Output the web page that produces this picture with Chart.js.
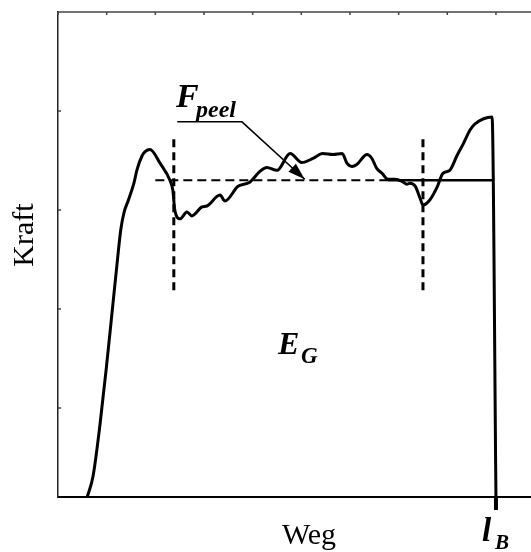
<!DOCTYPE html>
<html>
<head>
<meta charset="utf-8">
<script src="https://cdn.jsdelivr.net/npm/chart.js@4"></script>
<style>
  html, body { margin: 0; padding: 0; background: #fff; }
  #kraftChart { display: block; }
</style>
</head>
<body>
<canvas id="kraftChart" width="531" height="552"></canvas>
<script>
// peel curve, Weg (x) vs. Kraft (y)
var weg = [6.0, 7.2, 8.6, 9.9, 11.1, 12.1, 12.9, 13.6, 14.4, 15.6, 16.2, 17.3, 17.9, 18.9,
  21.0, 23.0, 23.6, 24.0, 25.1, 26.5, 27.5, 29.6, 30.6, 33.3, 34.3, 37.0, 39.4, 41.5, 42.9,
  45.0, 47.7, 50.1, 52.4, 54.4, 56.5, 58.4, 59.4, 60.4, 61.4, 63.5, 64.5, 65.5, 66.6, 67.8,
  69.2, 70.7, 71.7, 72.3, 73.4, 74.4, 75.0, 76.4, 77.9, 79.1, 80.5, 82.0, 83.2, 84.7, 85.7,
  89.2, 90.0];
var kraft = [0, 2.1, 7.2, 12.9, 18.6, 23.4, 27.0, 28.8, 29.9, 31.7, 33.0, 34.5, 34.9, 35.1,
  33.7, 32.0, 31.0, 29.0, 28.1, 28.8, 28.4, 29.3, 29.4, 30.5, 29.9, 31.4, 31.8, 32.9, 33.3,
  33.0, 34.7, 33.8, 34.2, 34.7, 34.6, 34.7, 33.7, 33.4, 33.6, 34.6, 34.2, 33.2, 32.7, 32.1,
  32.1, 31.9, 31.6, 31.7, 31.4, 30.2, 29.5, 30.0, 31.3, 32.7, 33.0, 34.5, 35.6, 37.1, 37.7,
  38.4, 0];

// evaluation window and mean peel force
var windowStart = 23.8;
var windowEnd = 75.0;
var windowLow = 20.9;
var windowHigh = 36.6;
var fPeel = 32.0;
var fPeelFrom = 20.0;
var dashEnd = 67.8;
var fPeelTo = 89.2;
var lB = 90.0;

// leader from the F_peel label to the mean line
var leaderX = [24.5, 37.8, 50.7];
var leaderY = [37.9, 37.9, 32.1];

// axis ranges and tick positions
var xMax = 97.2;
var yMax = 49;
var xTicks = [0, 10, 20, 30, 40, 50, 60, 70, 80, 90];
var yTicks = [9, 19, 29, 39];

function pts(xs, ys) {
  return xs.map(function(x, i) { return { x: x, y: ys[i] }; });
}

var frame = {
  id: "frame",
  afterDraw: function(chart) {
    var ctx = chart.ctx;
    var a = chart.chartArea;
    var xs = chart.scales.x;
    var ys = chart.scales.y;
    ctx.save();

    // top border with inward ticks
    ctx.strokeStyle = "#444";
    ctx.lineWidth = 1.5;
    ctx.beginPath();
    ctx.moveTo(a.left, a.top);
    ctx.lineTo(a.right, a.top);
    xTicks.forEach(function(t) {
      var px = xs.getPixelForValue(t);
      ctx.moveTo(px, a.top);
      ctx.lineTo(px, a.top + 3);
    });
    yTicks.forEach(function(t) {
      var py = ys.getPixelForValue(t);
      ctx.moveTo(a.left, py);
      ctx.lineTo(a.left + 3, py);
    });
    ctx.stroke();

    // l_B marker below the axis
    var pB = xs.getPixelForValue(lB);
    ctx.strokeStyle = "#000";
    ctx.lineWidth = 4;
    ctx.beginPath();
    ctx.moveTo(pB, a.bottom);
    ctx.lineTo(pB, a.bottom + 13);
    ctx.stroke();

    // arrow head on the leader
    var n = leaderX.length - 1;
    var tx = xs.getPixelForValue(leaderX[n]);
    var ty = ys.getPixelForValue(leaderY[n]);
    var fx = xs.getPixelForValue(leaderX[n - 1]);
    var fy = ys.getPixelForValue(leaderY[n - 1]);
    var ang = Math.atan2(ty - fy, tx - fx);
    ctx.fillStyle = "#000";
    ctx.beginPath();
    ctx.moveTo(tx, ty);
    ctx.lineTo(tx - 17 * Math.cos(ang) + 5.5 * Math.sin(ang), ty - 17 * Math.sin(ang) - 5.5 * Math.cos(ang));
    ctx.lineTo(tx - 17 * Math.cos(ang) - 5.5 * Math.sin(ang), ty - 17 * Math.sin(ang) + 5.5 * Math.cos(ang));
    ctx.closePath();
    ctx.fill();

    // labels
    ctx.fillStyle = "#000";
    ctx.textAlign = "left";
    ctx.textBaseline = "alphabetic";
    ctx.font = "bold italic 34px 'Liberation Serif'";
    ctx.fillText("F", 176, 107);
    ctx.font = "bold italic 24px 'Liberation Serif'";
    ctx.fillText("peel", 196, 117);

    ctx.font = "bold italic 32px 'Liberation Serif'";
    ctx.fillText("E", 278, 354);
    ctx.font = "bold italic 23px 'Liberation Serif'";
    ctx.fillText("G", 301, 363);

    ctx.font = "bold italic 33px 'Liberation Serif'";
    ctx.fillText("l", 482, 541);
    ctx.font = "bold italic 21px 'Liberation Serif'";
    ctx.fillText("B", 495, 549);

    ctx.font = "30px 'Liberation Serif'";
    ctx.textAlign = "center";
    ctx.fillText("Weg", 309, 544);

    ctx.translate(33, 235);
    ctx.rotate(-Math.PI / 2);
    ctx.fillText("Kraft", 0, 0);
    ctx.restore();
  }
};

var ctx = document.getElementById("kraftChart").getContext("2d");
var kraftChart = new Chart(ctx, {
  type: "line",
  data: {
    datasets: [
      {
        data: pts(weg, kraft),
        borderColor: "#000",
        borderWidth: 3,
        pointRadius: 0,
        tension: 0.4,
        cubicInterpolationMode: "monotone"
      },
      {
        data: pts([windowStart, windowStart], [windowLow, windowHigh]),
        borderColor: "#000",
        borderWidth: 3,
        borderDash: [8, 5],
        pointRadius: 0
      },
      {
        data: pts([windowEnd, windowEnd], [windowLow, windowHigh]),
        borderColor: "#000",
        borderWidth: 3,
        borderDash: [8, 5],
        pointRadius: 0
      },
      {
        data: pts([fPeelFrom, dashEnd], [fPeel, fPeel]),
        borderColor: "#000",
        borderWidth: 2,
        borderDash: [9, 5],
        pointRadius: 0
      },
      {
        data: pts([dashEnd, fPeelTo], [fPeel, fPeel]),
        borderColor: "#000",
        borderWidth: 2.5,
        pointRadius: 0
      },
      {
        data: pts(leaderX, leaderY),
        borderColor: "#000",
        borderWidth: 1.5,
        pointRadius: 0
      }
    ]
  },
  options: {
    responsive: false,
    animation: false,
    devicePixelRatio: 1,
    layout: { padding: { top: 12, left: 0, right: 0, bottom: 0 } },
    plugins: {
      legend: { display: false },
      tooltip: { enabled: false }
    },
    scales: {
      x: {
        type: "linear",
        min: 0,
        max: xMax,
        ticks: { display: false },
        grid: { display: false, drawTicks: false },
        border: { display: true, color: "#000", width: 2 },
        afterFit: function(scale) { scale.height = 55; }
      },
      y: {
        type: "linear",
        min: 0,
        max: yMax,
        ticks: { display: false },
        grid: { display: false, drawTicks: false },
        border: { display: true, color: "#222", width: 1.5 },
        afterFit: function(scale) { scale.width = 58; }
      }
    }
  },
  plugins: [frame]
});
</script>
</body>
</html>
